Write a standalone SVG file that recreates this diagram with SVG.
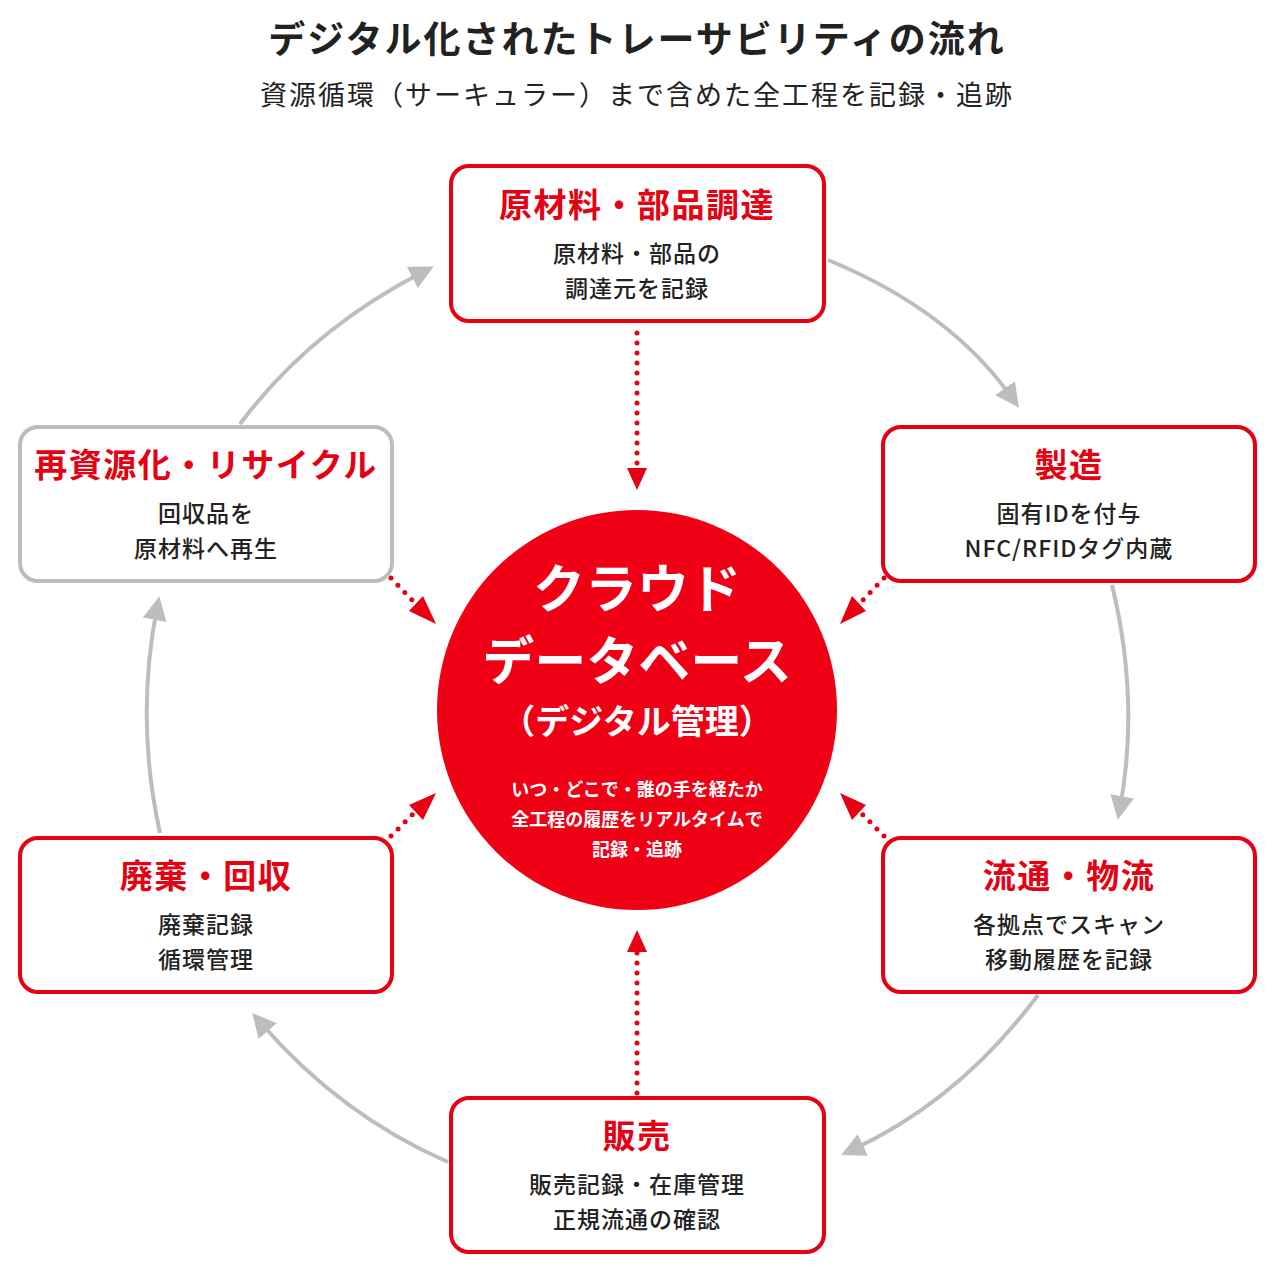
<svg xmlns="http://www.w3.org/2000/svg" width="1275" height="1275" viewBox="0 0 1275 1275">
<defs>
<style>
text{font-family:"Noto Sans CJK JP","Noto Sans",sans-serif;text-anchor:middle}
.box{fill:#fff;stroke:#e60012;stroke-width:4}
.gbox{fill:#fff;stroke:#bdbdbd;stroke-width:4}
.h{fill:#e60012;font-size:33px;font-weight:700;letter-spacing:1.5px}
.b{fill:#222;font-size:23px;font-weight:500;letter-spacing:1px}
.g{fill:none;stroke:#bdbdbd;stroke-width:4}
.d{fill:none;stroke:#e60012;stroke-width:5;stroke-linecap:round;stroke-dasharray:0 10}
</style>
<marker id="ga" viewBox="0 0 10 10" refX="5" refY="5" markerWidth="6" markerHeight="6" markerUnits="strokeWidth" orient="auto"><path d="M0,0L10,5L0,10z" fill="#bdbdbd"/></marker>
</defs>
<rect width="1275" height="1275" fill="#fff"/>
<text x="637" y="53" font-size="37" font-weight="700" fill="#222" letter-spacing="2">デジタル化されたトレーサビリティの流れ</text>
<text x="637" y="105" font-size="27" fill="#222" letter-spacing="2">資源循環（サーキュラー）まで含めた全工程を記録・追跡</text>
<g id="connectors">
<path class="g" d="M828,260 Q950,310 1012,398" marker-end="url(#ga)"/>
<path class="g" d="M1112,585 Q1140,700 1120,808" marker-end="url(#ga)"/>
<path class="g" d="M1038,995 Q960,1100 852,1150" marker-end="url(#ga)"/>
<path class="g" d="M448,1162 Q340,1115 260,1022" marker-end="url(#ga)"/>
<path class="g" d="M160,833 Q135,720 157,608" marker-end="url(#ga)"/>
<path class="g" d="M240,424 Q310,330 423,272" marker-end="url(#ga)"/>
<path class="d" d="M637,333V468"/><path d="M627,468L637,490L647,468z" fill="#e60012"/>
<path class="d" d="M637,1093V952"/><path d="M627,952L637,930L647,952z" fill="#e60012"/>
<path class="d" d="M884,578L860,603"/><path d="M852,596L840,624L866,611z" fill="#e60012"/>
<path class="d" d="M884,836L860,812"/><path d="M852,820L840,793L866,805z" fill="#e60012"/>
<path class="d" d="M391,836L415,812"/><path d="M409,805L436,793L423,820z" fill="#e60012"/>
<path class="d" d="M391,578L415,603"/><path d="M409,611L436,624L423,596z" fill="#e60012"/>
</g>
<g id="cloud">
<circle cx="637" cy="710" r="200" fill="#f00014"/>
<text x="637" y="608" font-size="52" font-weight="700" fill="#fff">クラウド</text>
<text x="637" y="680" font-size="52" font-weight="700" fill="#fff">データベース</text>
<text x="637" y="734" font-size="34" font-weight="700" fill="#fff">（デジタル管理）</text>
<text x="637" y="796" font-size="18" font-weight="700" fill="#fff">いつ・どこで・誰の手を経たか</text>
<text x="637" y="826" font-size="18" font-weight="700" fill="#fff">全工程の履歴をリアルタイムで</text>
<text x="637" y="856" font-size="18" font-weight="700" fill="#fff">記録・追跡</text>
</g>
<g id="n1"><rect class="box" x="451" y="166" width="373" height="155" rx="18"/><text class="h" x="637" y="217">原材料・部品調達</text><text class="b" x="637" y="262">原材料・部品の</text><text class="b" x="637" y="297">調達元を記録</text></g>
<g id="n2"><rect class="box" x="883" y="427" width="372" height="154" rx="18"/><text class="h" x="1069" y="477">製造</text><text class="b" x="1069" y="522">固有IDを付与</text><text class="b" x="1069" y="557">NFC/RFIDタグ内蔵</text></g>
<g id="n3"><rect class="box" x="883" y="838" width="372" height="154" rx="18"/><text class="h" x="1069" y="888">流通・物流</text><text class="b" x="1069" y="933">各拠点でスキャン</text><text class="b" x="1069" y="968">移動履歴を記録</text></g>
<g id="n4"><rect class="box" x="451" y="1098" width="373" height="154" rx="18"/><text class="h" x="637" y="1148">販売</text><text class="b" x="637" y="1193">販売記録・在庫管理</text><text class="b" x="637" y="1228">正規流通の確認</text></g>
<g id="n5"><rect class="box" x="20" y="838" width="372" height="154" rx="18"/><text class="h" x="206" y="888">廃棄・回収</text><text class="b" x="206" y="933">廃棄記録</text><text class="b" x="206" y="968">循環管理</text></g>
<g id="n6"><rect class="gbox" x="20" y="427" width="372" height="154" rx="18"/><text class="h" x="206" y="477">再資源化・リサイクル</text><text class="b" x="206" y="522">回収品を</text><text class="b" x="206" y="557">原材料へ再生</text></g>
</svg>
